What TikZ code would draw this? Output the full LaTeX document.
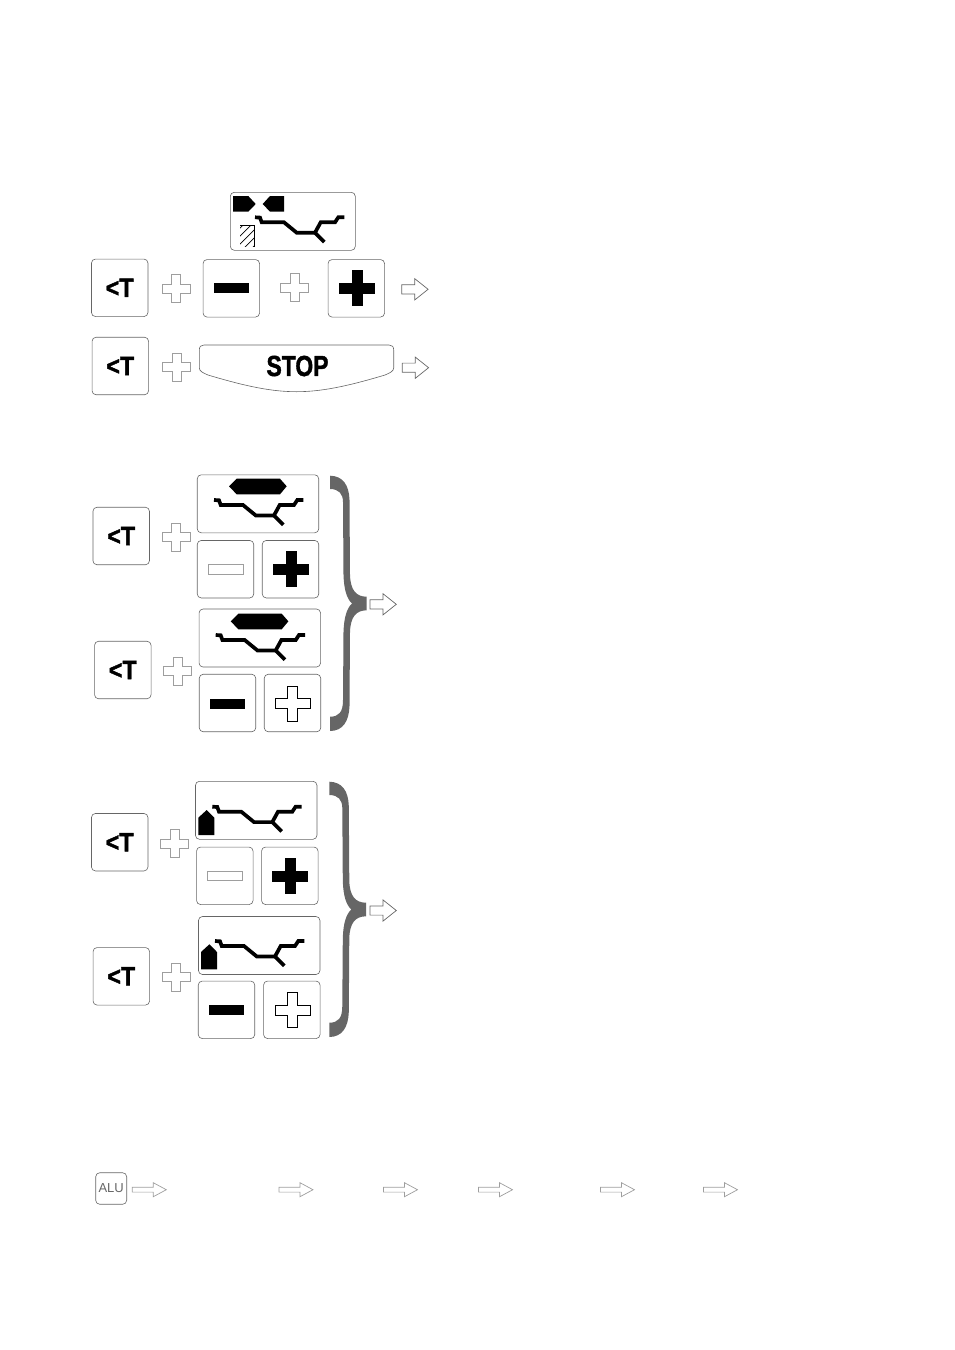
\documentclass[tikz,border=0pt]{standalone}
\usepackage{fontspec}
\setmainfont[BoldFeatures={FakeBold=1.6}]{Liberation Sans}
\usepackage{xcolor}
\definecolor{bracegray}{gray}{0.4}
\definecolor{softgray}{gray}{0.62}
\newcommand{\keyT}{\scalebox{.88}[1]{<T}}
\tikzset{
  keybox/.style={draw=black!60, line width=.6pt, rounded corners=4pt, inner sep=0pt,
    minimum width=56.5pt, minimum height=57.5pt, font=\bfseries\fontsize{26.5}{26.5}\selectfont},
  dispbox/.style={keybox, minimum width=121.5pt, minimum height=58pt},
  softline/.style={draw=softgray, line width=.7pt, fill=white},
  pics/softcross/.style={code={
    \draw[softline] (-4.5,-14) -- (4.5,-14) -- (4.5,-4.5) -- (14,-4.5) -- (14,4.5) -- (4.5,4.5)
      -- (4.5,14) -- (-4.5,14) -- (-4.5,4.5) -- (-14,4.5) -- (-14,-4.5) -- (-4.5,-4.5) -- cycle;}},
  pics/bigcross/.style={code={
    \draw[line width=.7pt, #1] (-5,-17.5) -- (5,-17.5) -- (5,-5) -- (17.5,-5) -- (17.5,5) -- (5,5)
      -- (5,17.5) -- (-5,17.5) -- (-5,5) -- (-17.5,5) -- (-17.5,-5) -- (-5,-5) -- cycle;}},
  pics/bigcross/.default={fill=white},
  pics/softarrow/.style={code={
    \draw[softline, draw=black!60] (0,-4.6) -- (13,-4.6) -- (13,-10.6) -- (26.3,0) -- (13,10.6) -- (13,4.6)
      -- (0,4.6) -- cycle;}},
  pics/longarrow/.style={code={
    \draw[softline] (0,-2.4) -- (21,-2.4) -- (21,-7) -- (34,0) -- (21,7) -- (21,2.4) -- (0,2.4) -- cycle;}},
  pics/rimprofile/.style={code={
    \draw[line width=3.7pt] (0,0) -- (5,.3) -- (6.7,5) -- (29,5) -- (41.7,15.4) -- (60,15.4) -- (65.7,5)
      -- (80,5) -- (83.3,0) -- (89.3,0);
    \draw[line width=3.7pt] (60,15.4) -- (69.3,24.7);}},
  pics/hexmark/.style={code={
    \fill (15,-13.7) -- (22.7,-21.3) -- (66,-21.3) -- (72.7,-13.7) -- (66,-5.7) -- (22.7,-5.7) -- cycle;}},
  pics/wheelmark/.style={code={
    \fill (-14,28.3) -- (-14,11) -- (-5.6,3.3) -- (2,11) -- (2,28.3) -- cycle;}},
  pics/bigbrace/.style={code={
    \fill[bracegray] (330,475.7) .. controls (343,476) and (349,485) .. (349.5,500) -- (350,575)
      .. controls (350.5,590) and (356,596.7) .. (366.7,596.7) -- (366.7,610.3)
      .. controls (356,610.3) and (350.5,617) .. (350,632) -- (349.5,706)
      .. controls (349,721) and (343,731) .. (330,731) -- (330,716.7)
      .. controls (339,716.7) and (343,712) .. (343,700) -- (343.5,632)
      .. controls (344,617) and (347,608) .. (352,603.5)
      .. controls (347,599) and (344,590) .. (343.5,575) -- (343,502)
      .. controls (343,494) and (339,489) .. (330,489) -- cycle;}}
}
\begin{document}
\begin{tikzpicture}[x=1pt, y=-1pt]
  \useasboundingbox (0,0) rectangle (954,1350);

  % first block
  \node[dispbox, minimum width=125pt] (dispA) at (292.8,221.3) {};
  \fill (233,196) -- (248.3,196) -- (255.7,204) -- (248.3,211.7) -- (233,211.7) -- cycle;
  \fill (284,196) -- (270,196) -- (262.7,204) -- (270,211.7) -- (284,211.7) -- cycle;
  \begin{scope}
    \clip (240,225) rectangle (254.7,246.7);
    \draw[line width=.7pt] (236,232) -- (246,222) (236,240) -- (254,222) (236,248) -- (258,226)
      (242,250) -- (258,234) (250,250) -- (258,242);
  \end{scope}
  \draw[line width=1pt] (240,225) -- (254.7,225) -- (254.7,246.7);
  \pic at (255,217.3) {rimprofile};
  \node[keybox] (tkeyA) at (119.7,287.8) {\keyT};
  \pic at (176.3,288.8) {softcross};
  \node[keybox] (minusA) at (231.3,288.3) {};
  \fill (213.7,283.3) rectangle (249,293.3);
  \pic at (294.5,287.8) {softcross};
  \node[keybox] (plusA) at (356.3,288.3) {};
  \pic at (357.3,288.3) {bigcross={fill=black}};
  \pic at (401.8,289.3) {softarrow};
  \node[keybox] (tkeyB) at (120.3,366) {\keyT};
  \pic at (176.7,367.2) {softcross};
  \draw[draw=black!60, line width=.6pt] (199.3,368) -- (199.3,350) .. controls (199.3,346.5) and (201,345) .. (204,345)
    -- (389,345) .. controls (392,345) and (393.7,346.5) .. (393.7,350) -- (393.7,368)
    .. controls (393.7,371) and (390,373) .. (385,375) .. controls (345,387) and (320,391.7) .. (296.5,391.7)
    .. controls (273,391.7) and (248,387) .. (208,375) .. controls (203,373) and (199.3,371) .. (199.3,368);
  \node[font=\bfseries\fontsize{29}{29}\selectfont, inner sep=0pt] (stopkey) at (297.5,366) {\scalebox{.79}[1]{STOP}};
  \pic at (402.3,367.7) {softarrow};

  % second block
  \node[keybox] (tkeyC) at (121.2,536) {\keyT};
  \pic at (176.2,537.2) {softcross};
  \node[dispbox] (dispC) at (258,503.8) {};
  \pic at (214,500) {hexmark};
  \pic at (214,500) {rimprofile};
  \node[keybox] (minusC) at (225.5,569.2) {};
  \draw[softline] (208.3,564) rectangle (243,574.7);
  \node[keybox] (plusC) at (290.5,569.2) {};
  \pic at (291,569.3) {bigcross={fill=black}};
  \node[keybox] (tkeyD) at (122.8,670) {\keyT};
  \pic at (177.4,671) {softcross};
  \node[dispbox] (dispD) at (259.8,638) {};
  \pic at (215.7,635) {hexmark};
  \pic at (215.7,635) {rimprofile};
  \node[keybox] (minusD) at (227.5,703) {};
  \fill (210,699) rectangle (245.3,709);
  \node[keybox] (plusD) at (292.5,703) {};
  \pic at (292.7,703.7) {bigcross};
  \pic {bigbrace};
  \pic at (370,604.3) {softarrow};

  % third block
  \node[keybox] (tkeyE) at (119.7,842.2) {\keyT};
  \pic at (174.7,843.8) {softcross};
  \node[dispbox] (dispE) at (256.2,810.3) {};
  \pic at (212.3,806.7) {wheelmark};
  \pic at (212.3,806.7) {rimprofile};
  \node[keybox] (minusE) at (224.8,875.8) {};
  \draw[softline] (207.3,871) rectangle (242,880.7);
  \node[keybox] (plusE) at (289.8,875.8) {};
  \pic at (290.3,876.3) {bigcross={fill=black}};
  \node[keybox] (tkeyF) at (121.3,976.3) {\keyT};
  \pic at (176.2,977.3) {softcross};
  \node[dispbox] (dispF) at (259.2,945.5) {};
  \pic at (215,941) {wheelmark};
  \pic at (215,941) {rimprofile};
  \node[keybox] (minusF) at (226.5,1009.8) {};
  \fill (209,1005) rectangle (244,1015);
  \node[keybox] (plusF) at (291.8,1009.8) {};
  \pic at (292.7,1010) {bigcross};
  \pic at (-.7,306) {bigbrace};
  \pic at (370,910.5) {softarrow};

  % alu row
  \node[keybox, minimum width=31pt, minimum height=31.5pt, font=\fontsize{13}{13}\selectfont, text=black!60] (alukey) at (111.2,1188.5) {ALU};
  \pic at (132.3,1189.7) {longarrow};
  \pic at (279,1189.7) {longarrow};
  \pic at (383.5,1189.7) {longarrow};
  \pic at (478.5,1189.7) {longarrow};
  \pic at (600.5,1189.7) {longarrow};
  \pic at (703.5,1189.7) {longarrow};
\end{tikzpicture}
\end{document}
